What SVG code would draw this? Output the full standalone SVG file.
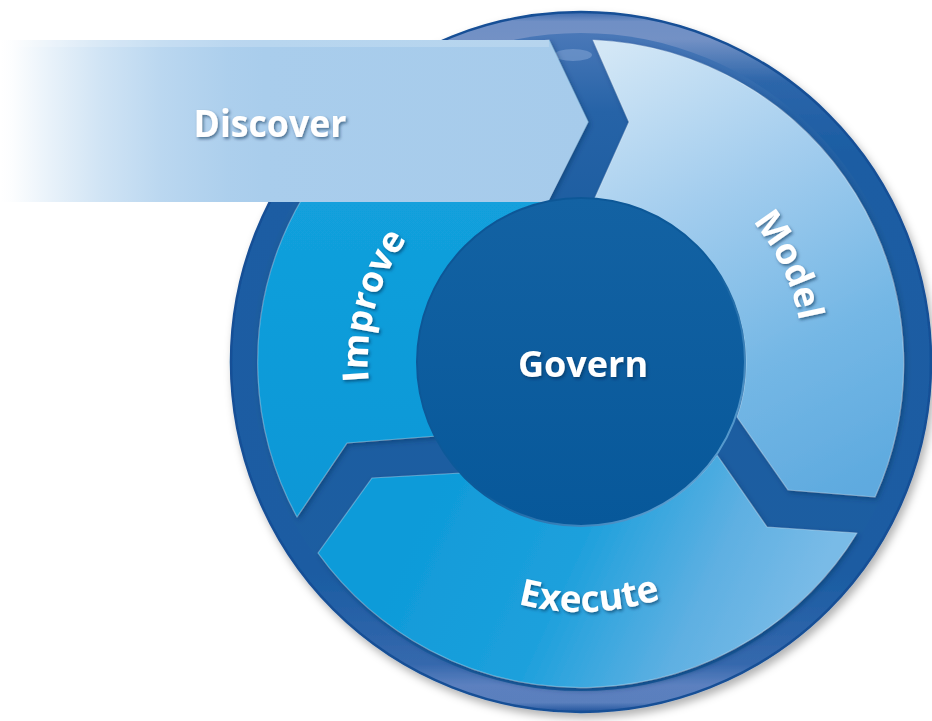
<svg xmlns="http://www.w3.org/2000/svg" width="932" height="721" viewBox="0 0 932 721">
<defs>
<style>
.lbl{font-family:"Open Sans","Liberation Sans",Arial,sans-serif;font-weight:700;fill:#ffffff;filter:url(#ts);}
.seg{stroke:#ffffff;stroke-opacity:0.3;stroke-width:1.2;stroke-linejoin:round;filter:url(#segsh);}
</style>
<filter id="ts" x="-20%" y="-40%" width="140%" height="180%">
<feDropShadow dx="1.5" dy="2" stdDeviation="1.6" flood-color="#00264d" flood-opacity="0.55"/>
</filter>
<filter id="segsh" x="-10%" y="-10%" width="120%" height="120%">
<feDropShadow dx="2" dy="2.5" stdDeviation="2.5" flood-color="#06305e" flood-opacity="0.5"/>
</filter>
<filter id="discsh" x="-10%" y="-10%" width="120%" height="120%">
<feDropShadow dx="3" dy="5" stdDeviation="4" flood-color="#000000" flood-opacity="0.3"/>
</filter>
<linearGradient id="rimG" x1="0" y1="11" x2="0" y2="713" gradientUnits="userSpaceOnUse">
<stop offset="0" stop-color="#3a68ab"/>
<stop offset="0.015" stop-color="#6f8fc5"/>
<stop offset="0.04" stop-color="#7391c5"/>
<stop offset="0.1" stop-color="#2d66aa"/>
<stop offset="0.2" stop-color="#1b5da3"/>
<stop offset="0.8" stop-color="#1a5ca2"/>
<stop offset="0.93" stop-color="#3568ad"/>
<stop offset="0.96" stop-color="#5b80bf"/>
<stop offset="0.985" stop-color="#5a7fbd"/>
<stop offset="1" stop-color="#1a4f98"/>
</linearGradient>
<linearGradient id="baseG" x1="0" y1="33" x2="0" y2="691" gradientUnits="userSpaceOnUse">
<stop offset="0" stop-color="#4a78b8"/>
<stop offset="0.12" stop-color="#2663a7"/>
<stop offset="0.3" stop-color="#1c5da0"/>
<stop offset="1" stop-color="#1c5ea2"/>
</linearGradient>
<linearGradient id="modelG" x1="620" y1="40" x2="860" y2="490" gradientUnits="userSpaceOnUse">
<stop offset="0" stop-color="#d3e7f6"/>
<stop offset="0.35" stop-color="#a3cdee"/>
<stop offset="0.7" stop-color="#74b7e5"/>
<stop offset="1" stop-color="#5eaadf"/>
</linearGradient>
<linearGradient id="execG" x1="430" y1="500" x2="780" y2="660" gradientUnits="userSpaceOnUse">
<stop offset="0" stop-color="#0f9bd9"/>
<stop offset="0.4" stop-color="#1da0dc"/>
<stop offset="0.75" stop-color="#5fb0e2"/>
<stop offset="1" stop-color="#79bbe7"/>
</linearGradient>
<linearGradient id="impG" x1="0" y1="200" x2="0" y2="520" gradientUnits="userSpaceOnUse">
<stop offset="0" stop-color="#12a0dc"/>
<stop offset="1" stop-color="#0c97d6"/>
</linearGradient>
<linearGradient id="govG" x1="0" y1="198" x2="0" y2="526" gradientUnits="userSpaceOnUse">
<stop offset="0" stop-color="#1362a3"/>
<stop offset="1" stop-color="#07589a"/>
</linearGradient>
<linearGradient id="govS" x1="0" y1="0" x2="1" y2="1">
<stop offset="0" stop-color="#0d5595"/>
<stop offset="0.55" stop-color="#0c5a9a"/>
<stop offset="1" stop-color="#7fbde9"/>
</linearGradient>
<linearGradient id="discG" x1="0" y1="0" x2="600" y2="0" gradientUnits="userSpaceOnUse">
<stop offset="0" stop-color="#a9cdec" stop-opacity="0"/>
<stop offset="0.02" stop-color="#a9cdec" stop-opacity="0.03"/>
<stop offset="0.08" stop-color="#a9cdec" stop-opacity="0.25"/>
<stop offset="0.17" stop-color="#a9cdec" stop-opacity="0.55"/>
<stop offset="0.27" stop-color="#a9cdec" stop-opacity="0.8"/>
<stop offset="0.38" stop-color="#a9cdec" stop-opacity="0.96"/>
<stop offset="0.44" stop-color="#a9cdec" stop-opacity="1"/>
<stop offset="1" stop-color="#a6cbeb" stop-opacity="1"/>
</linearGradient>
<path id="pModel" d="M619.5,143.4 A222,222 0 0,1 773.3,473"/>
<path id="pImprove" d="M417.8,498.9 A213,213 0 0,1 508.1,161.8"/>
<path id="pExecute" d="M389.5,522.7 A250,250 0 0,0 783.3,508.9"/>
</defs>

<g id="ring">
<circle cx="581" cy="362" r="350" fill="url(#rimG)" stroke="#174f96" stroke-width="2.5" filter="url(#discsh)"/>
<circle cx="581" cy="362" r="329" fill="url(#baseG)"/>
<ellipse cx="573" cy="55" rx="19" ry="6" fill="#8aaad8" opacity="0.5"/>
</g>

<g id="node-model">
<path class="seg" fill="url(#modelG)" d="M593,40 L629,122 L594,200 A164,164 0 0,1 737,417 L788,490 L875,497 A324,324 0 0,0 593,40 Z"/>
<text class="lbl" font-size="36"><textPath href="#pModel" startOffset="50%" text-anchor="middle">Model</textPath></text>
</g>

<g id="node-execute">
<path class="seg" fill="url(#execG)" d="M717,455 L767,527 L857,533 A324,324 0 0,1 318,553 L372,478 L462,473 A164,164 0 0,0 717,455 Z"/>
<text class="lbl" font-size="37"><textPath href="#pExecute" startOffset="50%" text-anchor="middle">Execute</textPath></text>
</g>

<g id="node-improve">
<path class="seg" fill="url(#impG)" d="M549,40 L588,122 L548,201 A164,164 0 0,0 437,436 L347,443 L297,517 A324,324 0 0,1 549,40 Z"/>
<text class="lbl" font-size="36"><textPath href="#pImprove" startOffset="50%" text-anchor="middle">Improve</textPath></text>
</g>

<g id="node-discover">
<path fill="url(#discG)" d="M0,40 L549,40 L588,122 L548,202 L0,202 Z"/>
<rect x="0" y="40" width="549" height="7" fill="#ffffff" opacity="0.18"/>
<text class="lbl" x="270" y="137" font-size="38" text-anchor="middle" textLength="153" lengthAdjust="spacingAndGlyphs">Discover</text>
</g>

<g id="node-govern">
<circle cx="581" cy="362" r="164" fill="url(#govG)" stroke="url(#govS)" stroke-width="2"/>
<text class="lbl" x="583" y="377" font-size="36" text-anchor="middle">Govern</text>
</g>
</svg>
